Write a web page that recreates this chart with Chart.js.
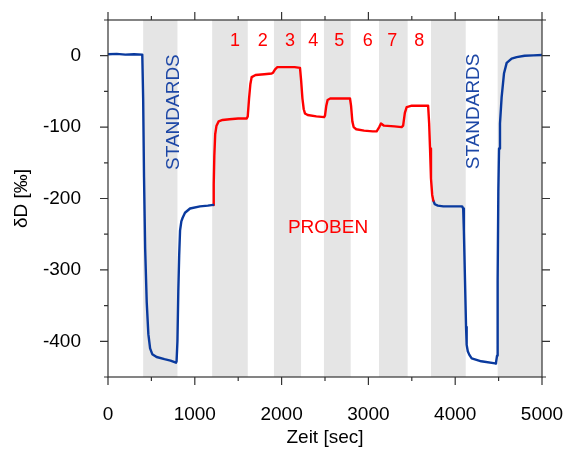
<!DOCTYPE html>
<html>
<head>
<meta charset="utf-8">
<script src="https://cdn.jsdelivr.net/npm/chart.js@4/dist/chart.umd.min.js"></script>
<style>
  html,body{margin:0;padding:0;background:#fff;}
  #wrap{width:564px;height:449px;position:relative;}
</style>
</head>
<body>
<div id="wrap"><canvas id="c" width="564" height="449"></canvas></div>
<script>
// ---- data (time in sec, deltaD in permil) ----
const standardsA_t = [0,100,200,300,395,405,415,428,446,465,485,510,560,650,720,783,790,800,810,820,830,845,860,887,945,1060,1150,1212];
const standardsA_v = [2,2.5,1.5,2,1.5,-60,-170,-270,-345,-390,-410,-418,-422,-425,-427,-430,-428,-400,-330,-280,-245,-232,-227,-220,-214,-211,-210,-209];

const proben_t = [1212,1218,1225,1235,1250,1275,1320,1400,1500,1598,1610,1625,1640,1655,1700,1800,1886,1900,1925,1951,2050,2150,2212,2225,2240,2255,2270,2300,2400,2490,2500,2515,2530,2560,2700,2788,2800,2815,2830,2860,2950,3050,3095,3125,3145,3180,3300,3383,3400,3420,3441,3500,3600,3688,3700,3710,3721,3735,3748];
const proben_v = [-209,-180,-140,-110,-98,-92,-90,-89,-88,-88,-85,-60,-40,-30,-27,-26,-25,-24,-19,-16,-16,-16,-17,-35,-60,-75,-81,-83,-85,-86,-84,-70,-62,-60,-60,-60,-70,-92,-100,-103,-105,-106,-106,-100,-95,-98,-99,-100,-98,-80,-72,-70,-70,-70,-95,-130,-172,-195,-203];

const standardsB_t = [3748,3765,3800,3863,4000,4080,4092,4100,4113,4125,4132,4145,4163,4190,4300,4460,4470,4482,4489,4497,4505,4516,4535,4562,4593,4650,4708,4800,4900,5000];
const standardsB_v = [-203,-208,-210,-211,-211,-211,-214,-245,-315,-380,-405,-414,-419,-424,-428,-431,-430,-420,-315,-190,-130,-95,-58,-25,-10,-4,-2,0,0.5,1];

// grey measurement windows
const bandStart = [405,1200,1912,2488,3122,3721,4489];
const bandEnd   = [800,1610,2224,2796,3452,4121,5000];

// labels
const sampleLabels = ['1','2','3','4','5','6','7','8'];
const sampleLabelT = [1463,1782,2097,2366,2664,2992,3276,3587];
const xTicks = [0,1000,2000,3000,4000,5000];
const yTicks = [-400,-300,-200,-100,0];

const toPts = (t,v) => t.map((x,i)=>({x, y:v[i]}));

const BLUE = '#0a3a9e';
const RED = '#ff0000';
const FONT = '"Liberation Sans", Arial, Helvetica, sans-serif';

const decor = {
  id:'decor',
  beforeDatasetsDraw(chart){
    const {ctx, chartArea:a, scales:{x}} = chart;
    ctx.save();
    ctx.fillStyle = '#e5e5e5';
    for(let i=0;i<bandStart.length;i++){
      const x0 = x.getPixelForValue(bandStart[i]);
      const x1 = x.getPixelForValue(bandEnd[i]);
      ctx.fillRect(x0, a.top, x1-x0, a.bottom-a.top);
    }
    ctx.restore();
  },
  afterDatasetsDraw(chart){
    const {ctx, chartArea:a, scales:{x,y}} = chart;
    ctx.save();
    ctx.textAlign = 'center';
    ctx.textBaseline = 'middle';
    ctx.fillStyle = RED;
    ctx.font = '18px ' + FONT;
    sampleLabels.forEach((s,i)=>{
      ctx.fillText(s, x.getPixelForValue(sampleLabelT[i]), y.getPixelForValue(20));
    });
    ctx.font = '19px ' + FONT;
    ctx.fillText('PROBEN', x.getPixelForValue(2535), y.getPixelForValue(-241));
    ctx.fillStyle = '#1d47a6';
    [[760,-79],[4217,-78]].forEach(([t,v])=>{
      ctx.save();
      ctx.translate(x.getPixelForValue(t), y.getPixelForValue(v));
      ctx.rotate(-Math.PI/2);
      ctx.fillText('STANDARDS', 0, 0);
      ctx.restore();
    });
    ctx.strokeStyle = '#333';
    ctx.lineWidth = 1.2;
    ctx.strokeRect(a.left, a.top, a.right-a.left, a.bottom-a.top);
    ctx.beginPath();
    for(let v=0; v<=5000; v+=500){
      const px = x.getPixelForValue(v);
      const L = (v%1000===0) ? 8 : 4;
      ctx.moveTo(px, a.bottom); ctx.lineTo(px, a.bottom+L);
      ctx.moveTo(px, a.top); ctx.lineTo(px, a.top-L);
    }
    for(let v=-450; v<=50; v+=50){
      const py = y.getPixelForValue(v);
      const L = (v%100===0) ? 8 : 4;
      ctx.moveTo(a.left, py); ctx.lineTo(a.left-L, py);
      ctx.moveTo(a.right, py); ctx.lineTo(a.right+L, py);
    }
    ctx.stroke();
    ctx.restore();
  }
};

const lineStyle = {borderWidth: 2.4, pointRadius:0, tension:0, borderJoinStyle:'round', borderCapStyle:'round'};

new Chart(document.getElementById('c'), {
  type:'line',
  data:{
    datasets:[
      Object.assign({data: toPts(standardsA_t, standardsA_v), borderColor: BLUE}, lineStyle),
      Object.assign({data: toPts(proben_t, proben_v), borderColor: RED}, lineStyle),
      Object.assign({data: toPts(standardsB_t, standardsB_v), borderColor: BLUE}, lineStyle)
    ]
  },
  options:{
    responsive:false,
    animation:false,
    events:[],
    layout:{padding:{left:0, right:22, top:20, bottom:0}},
    plugins:{legend:{display:false}, tooltip:{enabled:false}},
    scales:{
      x:{
        type:'linear', min:0, max:5000,
        afterFit(s){ s.height = 72; s.paddingLeft = 0; s.paddingRight = 0; },
        afterBuildTicks(s){ s.ticks = xTicks.map(v=>({value:v})); },
        grid:{display:false, drawTicks:false},
        border:{display:false},
        ticks:{color:'#000', font:{size:19, family:FONT}, padding:26, maxRotation:0, callback:v=>String(v)},
        title:{display:true, text:'Zeit [sec]', color:'#000', font:{size:19, family:FONT}, padding:{top:0,bottom:0}}
      },
      y:{
        type:'linear', min:-450, max:50,
        afterFit(s){ s.width = 108; s.paddingTop = 0; s.paddingBottom = 0; },
        afterBuildTicks(s){ s.ticks = yTicks.map(v=>({value:v})); },
        grid:{display:false, drawTicks:false},
        border:{display:false},
        ticks:{color:'#000', font:{size:19, family:FONT}, padding:27, callback:v=>String(v)},
        title:{display:true, text:'δD [‰]', color:'#000', font:{size:19, family:FONT}, padding:{top:10,bottom:0}}
      }
    }
  },
  plugins:[decor]
});
</script>
</body>
</html>
